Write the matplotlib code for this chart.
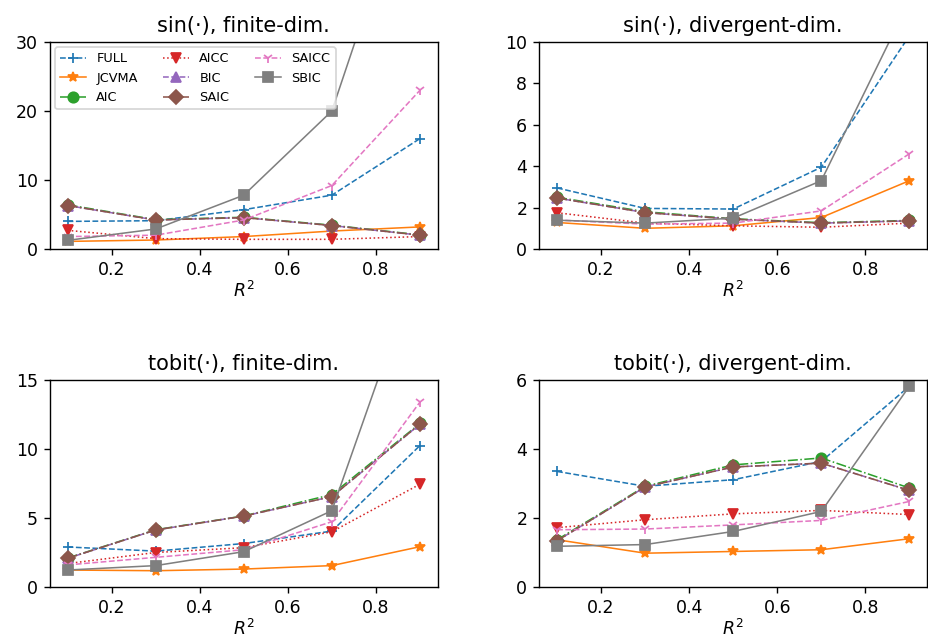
import matplotlib
matplotlib.use("Agg")
import matplotlib.pyplot as plt

r2 = [0.1, 0.3, 0.5, 0.7, 0.9]

methods = ["FULL", "JCVMA", "AIC", "AICC", "BIC", "SAIC", "SAICC", "SBIC"]
markers = ["+", "*", "o", "v", "^", "D", "1", "s"]
linestyles = ["--", "-", "-.", ":", "--", "-.", "--", "-"]

# sin(.), finite-dim.
sin_fin_full = [4.0, 4.1, 5.7, 7.8, 16.0]
sin_fin_jcvma = [1.1, 1.3, 1.8, 2.6, 3.2]
sin_fin_aic = [6.4, 4.25, 4.6, 3.45, 2.05]
sin_fin_aicc = [2.7, 1.5, 1.4, 1.4, 1.8]
sin_fin_bic = [6.3, 4.2, 4.55, 3.4, 2.0]
sin_fin_saic = [6.3, 4.2, 4.55, 3.4, 2.0]
sin_fin_saicc = [1.8, 2.0, 4.2, 9.2, 23.0]
sin_fin_sbic = [1.25, 2.9, 7.8, 20.0, 58.0]

# sin(.), divergent-dim.
sin_div_full = [2.95, 1.96, 1.93, 3.95, 10.3]
sin_div_jcvma = [1.28, 1.0, 1.12, 1.52, 3.3]
sin_div_aic = [2.5, 1.8, 1.46, 1.27, 1.38]
sin_div_aicc = [1.75, 1.25, 1.12, 1.05, 1.25]
sin_div_bic = [2.46, 1.76, 1.44, 1.25, 1.36]
sin_div_saic = [2.46, 1.76, 1.44, 1.25, 1.36]
sin_div_saicc = [1.4, 1.2, 1.25, 1.84, 4.6]
sin_div_sbic = [1.39, 1.25, 1.49, 3.3, 12.0]

# tobit(.), finite-dim.
tob_fin_full = [2.9, 2.6, 3.15, 4.05, 10.25]
tob_fin_jcvma = [1.23, 1.18, 1.3, 1.55, 2.92]
tob_fin_aic = [2.1, 4.15, 5.15, 6.7, 11.85]
tob_fin_aicc = [1.7, 2.5, 2.85, 4.0, 7.45]
tob_fin_bic = [2.08, 4.13, 5.14, 6.55, 11.8]
tob_fin_saic = [2.08, 4.13, 5.14, 6.55, 11.8]
tob_fin_saicc = [1.6, 2.15, 2.7, 4.73, 13.4]
tob_fin_sbic = [1.23, 1.55, 2.56, 5.53, 23.7]

# tobit(.), divergent-dim.
tob_div_full = [3.35, 2.92, 3.11, 3.64, 5.82]
tob_div_jcvma = [1.37, 0.98, 1.03, 1.08, 1.4]
tob_div_aic = [1.37, 2.92, 3.54, 3.74, 2.87]
tob_div_aicc = [1.72, 1.95, 2.12, 2.22, 2.1]
tob_div_bic = [1.34, 2.9, 3.48, 3.59, 2.8]
tob_div_saic = [1.34, 2.9, 3.48, 3.59, 2.8]
tob_div_saicc = [1.66, 1.68, 1.8, 1.93, 2.48]
tob_div_sbic = [1.18, 1.23, 1.61, 2.19, 5.82]

panels = [
    ("sin(·), finite-dim.", 30, [0, 10, 20, 30],
     [sin_fin_full, sin_fin_jcvma, sin_fin_aic, sin_fin_aicc,
      sin_fin_bic, sin_fin_saic, sin_fin_saicc, sin_fin_sbic]),
    ("sin(·), divergent-dim.", 10, [0, 2, 4, 6, 8, 10],
     [sin_div_full, sin_div_jcvma, sin_div_aic, sin_div_aicc,
      sin_div_bic, sin_div_saic, sin_div_saicc, sin_div_sbic]),
    ("tobit(·), finite-dim.", 15, [0, 5, 10, 15],
     [tob_fin_full, tob_fin_jcvma, tob_fin_aic, tob_fin_aicc,
      tob_fin_bic, tob_fin_saic, tob_fin_saicc, tob_fin_sbic]),
    ("tobit(·), divergent-dim.", 6, [0, 2, 4, 6],
     [tob_div_full, tob_div_jcvma, tob_div_aic, tob_div_aicc,
      tob_div_bic, tob_div_saic, tob_div_saicc, tob_div_sbic]),
]

fig, axes = plt.subplots(2, 2, figsize=(928 / 125, 644 / 125), dpi=125)
fig.subplots_adjust(left=50 / 928, right=927 / 928, bottom=1 - 587 / 644,
                    top=1 - 42 / 644, wspace=0.263, hspace=0.633)

for ax, (title, ymax, yticks, series) in zip(axes.flat, panels):
    for i, (name, vals) in enumerate(zip(methods, series)):
        ax.plot(r2, vals, marker=markers[i], linestyle=linestyles[i],
                color=f"C{i}", linewidth=0.9, markersize=6, label=name)
    ax.set_ylim(0, ymax)
    ax.set_yticks(yticks)
    ax.set_xticks([0.2, 0.4, 0.6, 0.8])
    ax.set_title(title, fontsize=12)
    ax.set_xlabel("$R^2$", fontsize=10, labelpad=1)

axes[0, 0].legend(loc="upper left", ncol=3, fontsize=7.4, handlelength=2.0,
                  columnspacing=2.0, borderaxespad=0.4)

fig.savefig("out.png", dpi=125)
